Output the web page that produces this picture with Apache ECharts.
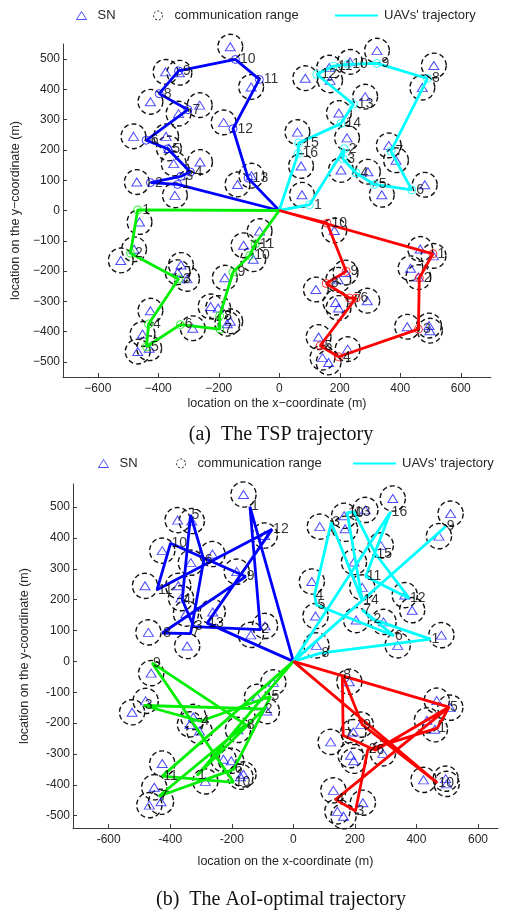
<!DOCTYPE html>
<html><head><meta charset="utf-8">
<script src="https://cdn.jsdelivr.net/npm/echarts@6/dist/echarts.min.js"></script>
<style>html,body{margin:0;padding:0;background:#fff}#c{width:505px;height:913px}</style>
</head><body><div id="c"></div>
<script>
// ---------- DATA ----------
// sensor node (SN) locations, shared by both scenarios (m)
const snPoints = [
  [-162,541],[-376,458],[-330,455],[-93,408],[-426,359],[-333,320],[-263,348],[-184,291],[-482,245],[-374,245],[-365,205],[-349,155],[-262,160],[-471,94],[-345,50],[-138,86],[-92,115],
  [323,528],[511,479],[473,406],[86,437],[168,430],[165,472],[234,491],[284,376],[197,322],[224,240],[60,259],[72,147],[75,52],[204,134],[293,128],[339,52],[362,215],[386,166],[481,85],
  [-462,-38],[-480,-128],[-524,-165],[-325,-180],[-336,-204],[-305,-226],[-426,-331],[-452,-408],[-468,-466],[-430,-455],[-286,-389],[-227,-317],[-202,-322],[-172,-374],[-162,-366],[-180,-222],[-118,-115],[-65,-68],[-86,-161],
  [182,-66],[466,-127],[510,-150],[434,-191],[460,-220],[121,-261],[219,-205],[195,-229],[186,-304],[196,-322],[291,-298],[423,-384],[495,-380],[498,-397],[130,-418],[143,-486],[163,-502],[226,-458]
];
const commRange = 41; // communication range radius (m)

// (a) TSP trajectories: visit order and waypoint labels
const tspBlue = [[0,0],[-336,86],[-426,92],[-325,113],[-294,127],[-369,204],[-440,232],[-302,333],[-397,386],[-333,461],[-145,499],[-66,433],[-153,270],[-103,107],[0,0]];
const tspBlueLabels = ['','1','2','3','4','5','6','7','8','9','10','11','12','13',''];
const tspCyan = [[0,0],[100,19],[215,204],[210,171],[254,124],[314,86],[438,68],[369,196],[490,436],[323,486],[226,483],[179,477],[124,450],[245,351],[204,287],[64,223],[62,188],[0,0]];
const tspCyanLabels = ['','1','2','3','4','5','6','7','8','9','10','11','12','13','14','15','16',''];
const tspGreen = [[0,0],[-468,2],[-492,-141],[-333,-226],[-432,-375],[-439,-450],[-327,-377],[-197,-392],[-197,-348],[-153,-204],[-98,-149],[-79,-110],[0,0]];
const tspGreenLabels = ['','1','2','3','4','5','6','7','8','9','10','11',''];
const tspRed = [[0,0],[508,-143],[463,-223],[460,-392],[196,-483],[135,-447],[254,-289],[232,-289],[155,-241],[221,-201],[158,-42],[0,0]];
const tspRedLabels = ['','1','2','3','4','5','6','7','8','9','10',''];

// (b) AoI-optimal trajectories: visit order and waypoint labels
const aoiBlue = [[0,0],[-141,502],[-107,103],[-324,113],[-361,200],[-334,475],[-291,329],[-334,90],[-426,92],[-155,275],[-399,383],[-443,232],[-69,428],[-280,124],[0,0]];
const aoiBlueLabels = ['','1','2','3','4','5','6','7','8','9','10','11','12','13',''];
const aoiCyan = [[0,0],[88,27],[446,72],[257,137],[224,167],[327,83],[75,183],[69,216],[123,450],[224,197],[175,482],[197,485],[267,349],[376,205],[235,275],[316,485],[0,0],[495,437],[0,0]];
const aoiCyanLabels = ['','8','1','2','7','6','5','4','3','14','10','13','15','12','11','16','','9',''];
const aoiGreen = [[0,0],[-313,-370],[-96,-154],[-486,-143],[-302,-194],[-74,-113],[-194,-350],[-437,-437],[-155,-205],[-459,-5],[-194,-392],[-426,-372],[0,0]];
const aoiGreenLabels = ['','1','2','3','4','5','6','7','8','9','10','11',''];
const aoiRed = [[0,0],[506,-148],[468,-216],[242,-286],[202,-485],[137,-448],[506,-148],[267,-288],[162,-240],[159,-43],[224,-205],[468,-394],[0,0]];
const aoiRedLabels = ['','5','1','2','3','4','','6','7','8','9','10',''];

// axis ticks
const xTickValues = [-600,-400,-200,0,200,400,600];
const yTickValues = [-500,-400,-300,-200,-100,0,100,200,300,400,500];

// ---------- STYLE ----------
const FONT = 'Liberation Sans, Arial, sans-serif';
const SERIF = 'Liberation Serif, Times New Roman, serif';
const COLORS = {blue:'#0000ff', cyan:'#00ffff', green:'#00ee00', red:'#ff0000'};
const SN_COLOR = '#1f1fff';

const grids = [
  {left:63, top:44, width:428, height:333, xmin:-715, xmax:700, ymin:-550, ymax:550, minus:'\u2212', xGap:20, yGap:36},
  {left:73, top:484, width:425, height:344, xmin:-716, xmax:665, ymin:-540, ymax:575, minus:'-', xGap:27, yGap:42}
];

const chart = echarts.init(document.getElementById('c'), null, {renderer:'canvas'});

function axisCommon(g, ticks) {
  return {
    type:'value',
    axisLine:{show:true, onZero:false, lineStyle:{color:'#3a3a3a', width:1}},
    axisTick:{show:true, inside:true, length:4, customValues:ticks, lineStyle:{color:'#3a3a3a', width:1}},
    axisLabel:{customValues:ticks, fontFamily:FONT, fontSize:12, color:'#262626',
      formatter:v => String(v).replace('-', g.minus)},
    splitLine:{show:false},
    nameLocation:'middle',
    nameTextStyle:{fontFamily:FONT, fontSize:12.5, color:'#262626'}
  };
}

const xAxes = [], yAxes = [], gridOpts = [], series = [];
grids.forEach((g, gi) => {
  gridOpts.push({left:g.left, top:g.top, width:g.width, height:g.height, containLabel:false});
  const xa = axisCommon(g, xTickValues);
  Object.assign(xa, {gridIndex:gi, min:g.xmin, max:g.xmax, name:'location on the x' + g.minus + 'coordinate (m)', nameGap:g.xGap});
  xa.axisLabel.margin = 6;
  xAxes.push(xa);
  const ya = axisCommon(g, yTickValues);
  Object.assign(ya, {gridIndex:gi, min:g.ymin, max:g.ymax, name:'location on the y' + g.minus + 'coordinate (m)', nameGap:g.yGap});
  ya.axisLabel.margin = 3;
  yAxes.push(ya);
});

function addScenario(gi, paths, markers) {
  // communication range circles
  series.push({
    type:'custom', name:'communication range', xAxisIndex:gi, yAxisIndex:gi, z:1,
    data:snPoints,
    renderItem:(params, api) => {
      const c = api.coord([api.value(0), api.value(1)]);
      const r = api.size([commRange, commRange])[0];
      return {type:'circle', shape:{cx:c[0], cy:c[1], r:r},
        style:{fill:null, stroke:'#111', lineWidth:1.4, lineDash:[5,3]}};
    }
  });
  // SN triangles
  series.push({
    type:'scatter', name:'SN', xAxisIndex:gi, yAxisIndex:gi, z:2,
    data:snPoints, symbol:'triangle', symbolSize:[10,8],
    itemStyle:{color:'rgba(0,0,0,0)', borderColor:SN_COLOR, borderWidth:1},
    emphasis:{disabled:true}
  });
  paths.forEach((p, k) => {
    const col = COLORS[p.color];
    series.push({
      type:'line', name: p.color === 'cyan' ? "UAVs' trajectory" : ('UAV ' + p.color + gi),
      xAxisIndex:gi, yAxisIndex:gi, z:3,
      data:p.pts, symbol:'none', color:col,
      lineStyle:{color:col, width:2.8}
    });
  });
  paths.forEach((p, k) => {
    const col = COLORS[p.color];
    const seen = {};
    const pts = [];
    p.pts.forEach((pt, i) => {
      const lb = p.labels[i];
      if (lb && !seen[lb]) { seen[lb] = 1; pts.push({name:lb, value:pt}); }
    });
    series.push({
      type:'scatter', name:'wp ' + p.color + gi, xAxisIndex:gi, yAxisIndex:gi, z:4,
      data:pts, symbol:'circle', symbolSize: markers ? 8 : 1,
      itemStyle:{color:'rgba(0,0,0,0)', borderColor: markers ? col : 'rgba(0,0,0,0)', borderWidth:1},
      label:{show:true, position:'right', distance:0, formatter:'{b}', fontFamily:FONT, fontSize:14, color:'#000'},
      emphasis:{disabled:true}
    });
  });
}

addScenario(0, [
  {color:'blue', pts:tspBlue, labels:tspBlueLabels},
  {color:'cyan', pts:tspCyan, labels:tspCyanLabels},
  {color:'green', pts:tspGreen, labels:tspGreenLabels},
  {color:'red', pts:tspRed, labels:tspRedLabels}
], true);
addScenario(1, [
  {color:'blue', pts:aoiBlue, labels:aoiBlueLabels},
  {color:'cyan', pts:aoiCyan, labels:aoiCyanLabels},
  {color:'green', pts:aoiGreen, labels:aoiGreenLabels},
  {color:'red', pts:aoiRed, labels:aoiRedLabels}
], false);

function legendSet(y, xs) {
  const base = {orient:'horizontal', padding:0, selectedMode:false, itemGap:0,
    textStyle:{fontFamily:FONT, fontSize:13, color:'#262626'}};
  return [
    Object.assign({}, base, {left:xs[0], top:y, itemWidth:10, itemHeight:8,
      data:[{name:'SN', icon:'triangle', itemStyle:{color:'rgba(0,0,0,0)', borderColor:SN_COLOR, borderWidth:1}}],
      textStyle:Object.assign({}, base.textStyle, {padding:[0,0,0,6]})}),
    Object.assign({}, base, {left:xs[1], top:y, itemWidth:9, itemHeight:9,
      data:[{name:'communication range', icon:'circle', itemStyle:{color:'rgba(0,0,0,0)', borderColor:'#111', borderWidth:1, borderType:[2,2]}}],
      textStyle:Object.assign({}, base.textStyle, {padding:[0,0,0,7]})}),
    Object.assign({}, base, {left:xs[2], top:y, itemWidth:43, itemHeight:2,
      data:[{name:"UAVs' trajectory", icon:'rect', itemStyle:{color:COLORS.cyan}}],
      textStyle:Object.assign({}, base.textStyle, {padding:[0,0,0,1]})})
  ];
}

const option = {
  animation:false,
  backgroundColor:'#fff',
  grid:gridOpts, xAxis:xAxes, yAxis:yAxes, series:series,
  legend:[].concat(legendSet(9, [76, 153, 335]), legendSet(457, [98, 176, 353])),
  graphic:[
    {type:'text', x:281, y:435, style:{text:'(a)  The TSP trajectory', font:'20px ' + SERIF, fill:'#111', textAlign:'center', textVerticalAlign:'middle'}},
    {type:'text', x:281, y:900, style:{text:'(b)  The AoI-optimal trajectory', font:'20px ' + SERIF, fill:'#111', textAlign:'center', textVerticalAlign:'middle'}}
  ]
};
chart.setOption(option);
</script></body></html>
